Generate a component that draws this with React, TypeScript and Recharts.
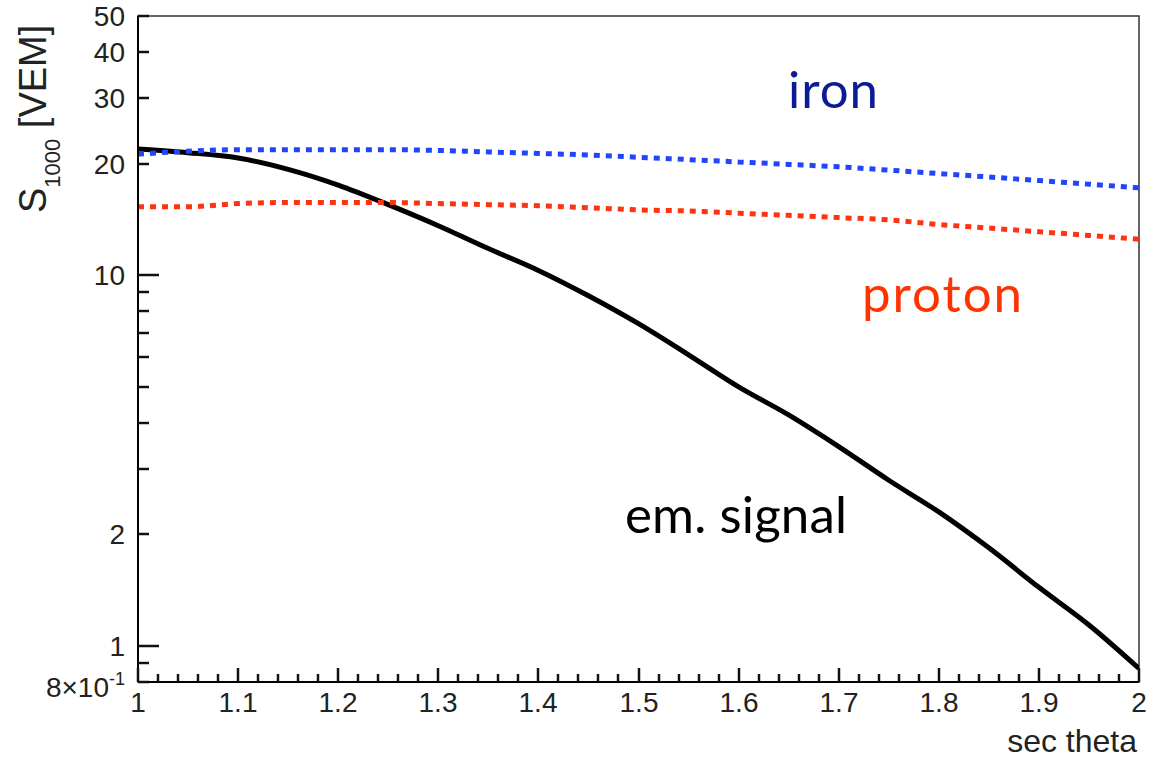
import { LineChart, Line, XAxis, YAxis, ReferenceArea } from "recharts";

// sec(theta) sample points
const secTheta = [1.0, 1.05, 1.1, 1.15, 1.2, 1.25, 1.3, 1.35, 1.4, 1.45, 1.5, 1.55, 1.6, 1.65, 1.7, 1.75, 1.8, 1.85, 1.9, 1.95, 2.0];

// S1000 [VEM]
const emSignal = [21.9, 21.4, 20.7, 19.3, 17.5, 15.5, 13.6, 11.8, 10.3, 8.8, 7.4, 6.1, 5.0, 4.2, 3.45, 2.8, 2.3, 1.84, 1.44, 1.14, 0.87];
const ironSignal = [21.2, 21.6, 21.8, 21.8, 21.8, 21.8, 21.7, 21.5, 21.3, 21.1, 20.8, 20.5, 20.2, 19.9, 19.6, 19.2, 18.8, 18.4, 18.0, 17.6, 17.2];
const protonSignal = [15.3, 15.3, 15.6, 15.7, 15.7, 15.7, 15.6, 15.5, 15.4, 15.2, 15.0, 14.9, 14.7, 14.5, 14.3, 14.1, 13.7, 13.4, 13.1, 12.8, 12.5];

// axis ticks
const xMajorTicks = [1, 1.1, 1.2, 1.3, 1.4, 1.5, 1.6, 1.7, 1.8, 1.9, 2];
const xTicks = Array.from({ length: 51 }, (_, i) => Math.round((1 + i * 0.02) * 100) / 100);
const yTicks = [0.8, 0.9, 1, 2, 3, 4, 5, 6, 7, 8, 9, 10, 20, 30, 40, 50];
const yLabelled = [0.8, 1, 2, 10, 20, 30, 40, 50];
const yLong = [1, 10];

const data = secTheta.map((x, i) => ({
  x,
  em: emSignal[i],
  iron: ironSignal[i],
  proton: protonSignal[i],
}));

const AXIS_FONT = '"Liberation Sans", Arial, Helvetica, sans-serif';
const TEXT_FONT = 'Lato, "Open Sans", sans-serif';

// ROOT-style ticks: drawn inward, minor ones shorter
function XTick(props: any) {
  const { x, y, payload } = props;
  const v = payload.value as number;
  const major = xMajorTicks.some((m) => Math.abs(m - v) < 1e-6);
  const label = v === 1 || v === 2 ? String(v) : v.toFixed(1);
  const xx = Math.round(Number(x));
  const yy = Number(y);
  return (
    <g>
      <path d={`M${xx},${yy}V${yy - (major ? 14 : 8)}`} stroke="#111" strokeWidth={2.5} fill="none" />
      {major && (
        <text x={xx} y={yy + 30} textAnchor="middle" fontSize={28} fontFamily={AXIS_FONT} fill="#222">
          {label}
        </text>
      )}
    </g>
  );
}

function YTick(props: any) {
  const { x, y, payload } = props;
  const v = payload.value as number;
  const len = yLong.includes(v) ? 21 : 11;
  const show = yLabelled.includes(v);
  const xx = Number(x);
  const yy = Math.round(Number(y));
  return (
    <g>
      <path d={`M${xx},${yy}H${xx + len}`} stroke="#111" strokeWidth={2.5} fill="none" />
      {show &&
        (v === 0.8 ? (
          <text x={xx - 13} y={yy + 15} textAnchor="end" fontSize={28} fontFamily={AXIS_FONT} fill="#222">
            8×10
            <tspan fontSize={18} dy={-12}>-1</tspan>
          </text>
        ) : (
          <text x={xx - 13} y={yy + 10} textAnchor="end" fontSize={28} fontFamily={AXIS_FONT} fill="#222">
            {v}
          </text>
        ))}
    </g>
  );
}

export default function App() {
  return (
    <div style={{ position: "absolute", left: 0, top: 0, width: 1159, height: 768, background: "#fff" }}>
      <LineChart width={1159} height={768} data={data} margin={{ top: 16, right: 20, left: 78, bottom: 0 }}>
        <XAxis
          dataKey="x"
          type="number"
          domain={[1, 2]}
          ticks={xTicks}
          interval={0}
          height={86}
          tickSize={0}
          tickMargin={0}
          tickLine={false}
          axisLine={{ stroke: "#000", strokeWidth: 2 }}
          tick={<XTick />}
          allowDataOverflow
        />
        <YAxis
          type="number"
          scale="log"
          domain={[0.8, 50]}
          ticks={yTicks}
          interval={0}
          width={60}
          tickSize={0}
          tickMargin={0}
          tickLine={false}
          axisLine={{ stroke: "#000", strokeWidth: 2 }}
          tick={<YTick />}
          allowDataOverflow
        />
        <ReferenceArea x1={1} x2={2} y1={0.8} y2={50} fill="none" stroke="#333" strokeWidth={1.5} />
        <Line dataKey="em" type="monotone" stroke="#000" strokeWidth={5} dot={false} isAnimationActive={false} />
        <Line dataKey="iron" type="monotone" stroke="#2244ff" strokeWidth={5} strokeDasharray="6 6" dot={false} isAnimationActive={false} />
        <Line dataKey="proton" type="monotone" stroke="#ff3311" strokeWidth={5} strokeDasharray="6 6" dot={false} isAnimationActive={false} />
      </LineChart>
      <svg width={1159} height={768} style={{ position: "absolute", left: 0, top: 0, pointerEvents: "none" }}>
        <text transform="translate(46,213) rotate(-90)" fontSize={38} fontFamily={AXIS_FONT} fill="#222">
          S
          <tspan fontSize={22} dy={14}>1000</tspan>
          <tspan dy={-14}> [VEM]</tspan>
        </text>
        <text x={1137} y={752} textAnchor="end" fontSize={32} fontFamily={AXIS_FONT} fill="#222">
          sec theta
        </text>
        <text x={788} y={108} fontSize={51} fontFamily={TEXT_FONT} fill="#0c1b96" textLength={90} lengthAdjust="spacing">
          iron
        </text>
        <text x={862} y={312} fontSize={51} fontFamily={TEXT_FONT} fill="#ff3300" textLength={160} lengthAdjust="spacing">
          proton
        </text>
        <text x={625} y={533} fontSize={51} fontFamily={TEXT_FONT} fill="#000" textLength={222} lengthAdjust="spacing">
          em. signal
        </text>
      </svg>
    </div>
  );
}
